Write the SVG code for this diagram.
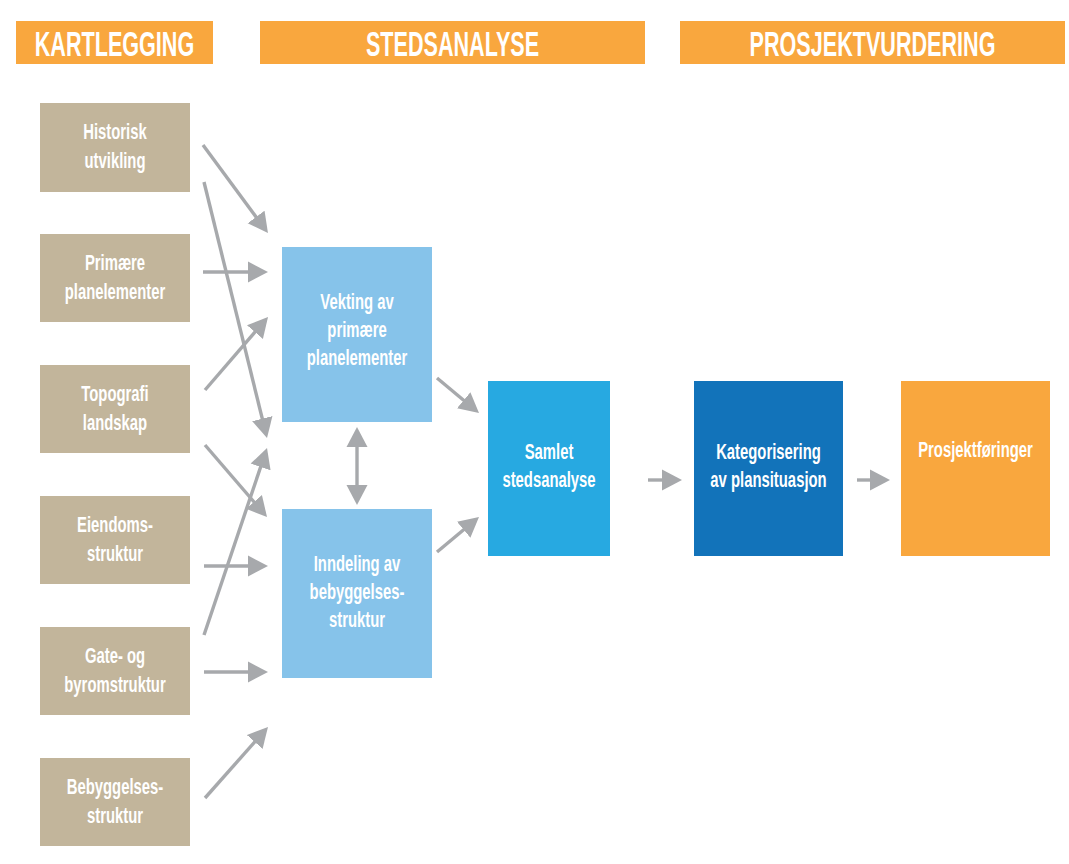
<svg xmlns="http://www.w3.org/2000/svg" width="1069" height="864" viewBox="0 0 1069 864">
<style>
.hdr{fill:#F9A73E}
.tan{fill:#C2B59B}
.lb{fill:#86C3EA}
.mb{fill:#27A9E1}
.db{fill:#1273BA}
.or{fill:#F9A73E}
text{font-family:"Liberation Sans",Arial,sans-serif;font-weight:bold;fill:#fff;text-anchor:middle}
.h{font-size:36px}
.t{font-size:22.5px}
.c line{stroke:#A7A9AC;stroke-width:3.4;fill:none;marker-end:url(#ah)}
</style>
<defs>
<marker id="ah" markerUnits="userSpaceOnUse" markerWidth="20" markerHeight="22" refX="14" refY="11" orient="auto-start-reverse" viewBox="0 0 20 22">
<path d="M0,0.5 L20,11 L0,21.5 Z" fill="#A7A9AC"/>
</marker>
</defs>
<rect width="1069" height="864" fill="#fff"/>
<g id="header-kartlegging"><rect class="hdr" x="16" y="21" width="197" height="43"/><text class="h" transform="translate(114.5 0) scale(0.6 1)" x="0" y="56.5">KARTLEGGING</text></g>
<g id="header-stedsanalyse"><rect class="hdr" x="260" y="21" width="385" height="43"/><text class="h" transform="translate(452.5 0) scale(0.6 1)" x="0" y="56.5">STEDSANALYSE</text></g>
<g id="header-prosjektvurdering"><rect class="hdr" x="680" y="21" width="385" height="43"/><text class="h" transform="translate(872.5 0) scale(0.6 1)" x="0" y="56.5">PROSJEKTVURDERING</text></g>

<g id="historisk"><rect class="tan" x="40" y="103" width="150" height="89"/><text class="t" transform="translate(115 0) scale(0.66 1)"><tspan x="0" y="139">Historisk</tspan><tspan x="0" y="168">utvikling</tspan></text></g>
<g id="primaere"><rect class="tan" x="40" y="234" width="150" height="88"/><text class="t" transform="translate(115 0) scale(0.66 1)"><tspan x="0" y="270">Primære</tspan><tspan x="0" y="299">planelementer</tspan></text></g>
<g id="topografi"><rect class="tan" x="40" y="365" width="150" height="88"/><text class="t" transform="translate(115 0) scale(0.66 1)"><tspan x="0" y="401">Topografi</tspan><tspan x="0" y="430">landskap</tspan></text></g>
<g id="eiendom"><rect class="tan" x="40" y="496" width="150" height="88"/><text class="t" transform="translate(115 0) scale(0.66 1)"><tspan x="0" y="532">Eiendoms-</tspan><tspan x="0" y="561">struktur</tspan></text></g>
<g id="gate"><rect class="tan" x="40" y="627" width="150" height="88"/><text class="t" transform="translate(115 0) scale(0.66 1)"><tspan x="0" y="663">Gate- og</tspan><tspan x="0" y="692">byromstruktur</tspan></text></g>
<g id="bebyggelse"><rect class="tan" x="40" y="758" width="150" height="88"/><text class="t" transform="translate(115 0) scale(0.66 1)"><tspan x="0" y="794">Bebyggelses-</tspan><tspan x="0" y="823">struktur</tspan></text></g>

<g id="vekting"><rect class="lb" x="282" y="247" width="150" height="175"/><text class="t" transform="translate(357 0) scale(0.66 1)"><tspan x="0" y="309">Vekting av</tspan><tspan x="0" y="337">primære</tspan><tspan x="0" y="365">planelementer</tspan></text></g>
<g id="inndeling"><rect class="lb" x="282" y="509" width="150" height="169"/><text class="t" transform="translate(357 0) scale(0.66 1)"><tspan x="0" y="571">Inndeling av</tspan><tspan x="0" y="599">bebyggelses-</tspan><tspan x="0" y="627">struktur</tspan></text></g>

<g id="samlet"><rect class="mb" x="488" y="381" width="122" height="175"/><text class="t" transform="translate(549 0) scale(0.66 1)"><tspan x="0" y="459">Samlet</tspan><tspan x="0" y="487">stedsanalyse</tspan></text></g>
<g id="kategorisering"><rect class="db" x="694" y="381" width="149" height="175"/><text class="t" transform="translate(768.5 0) scale(0.66 1)"><tspan x="0" y="459">Kategorisering</tspan><tspan x="0" y="487">av plansituasjon</tspan></text></g>
<g id="prosjektforinger"><rect class="or" x="901" y="381" width="149" height="175"/><text class="t" transform="translate(975.5 0) scale(0.66 1)" x="0" y="457">Prosjektføringer</text></g>

<g id="connectors" class="c">
<line x1="203" y1="145" x2="264.4" y2="228.2"/>
<line x1="203" y1="272" x2="262" y2="272"/>
<line x1="204" y1="182" x2="265.6" y2="432.2"/>
<line x1="205" y1="390" x2="264.1" y2="321.5"/>
<line x1="205" y1="445" x2="263.1" y2="512.5"/>
<line x1="204" y1="566" x2="262" y2="566"/>
<line x1="204" y1="635" x2="265.1" y2="453.7"/>
<line x1="204" y1="672" x2="262" y2="672"/>
<line x1="205" y1="798" x2="264" y2="731.5"/>
<line x1="437" y1="378" x2="474.4" y2="409.2"/>
<line x1="437" y1="552" x2="474.4" y2="520.8"/>
<line x1="357" y1="433" x2="357" y2="499" style="marker-start:url(#ah)"/>
<line x1="648" y1="480" x2="676" y2="480"/>
<line x1="857" y1="480" x2="884" y2="480"/>
</g>
</svg>
